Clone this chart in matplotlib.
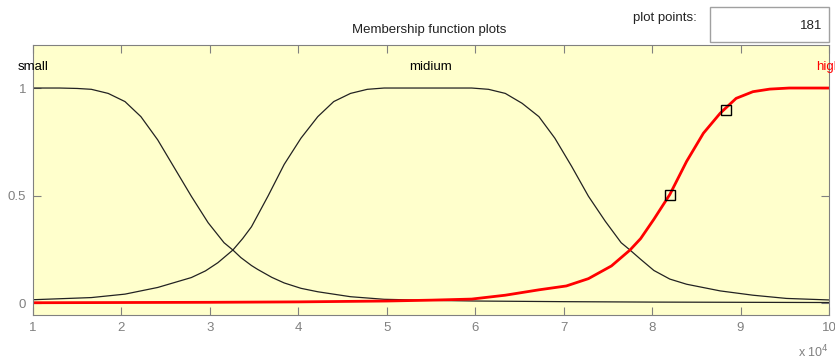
import numpy as np
import matplotlib.pyplot as plt
from matplotlib.patches import Rectangle

plt.rcParams['font.family'] = ['Liberation Sans', 'DejaVu Sans']

# membership degrees (input in units of 10^4)
x_small = [1.0, 1.3, 1.5, 1.66, 1.85, 2.04, 2.22, 2.41, 2.6, 2.79, 2.98,
           3.16, 3.26, 3.35, 3.47, 3.54, 3.7, 3.84, 4.03, 4.22, 4.59, 4.97,
           5.5, 6.0, 7.0, 8.0, 9.0, 10.0]
small = [1.0, 1.0, 0.998, 0.994, 0.975, 0.937, 0.867, 0.759, 0.628, 0.497,
         0.374, 0.281, 0.247, 0.212, 0.175, 0.157, 0.12, 0.094, 0.069, 0.053,
         0.03, 0.018, 0.013, 0.01, 0.007, 0.005, 0.004, 0.003]

x_midium = [1.0, 1.66, 2.04, 2.41, 2.79, 2.95, 3.09, 3.26, 3.37, 3.47, 3.66,
            3.84, 4.03, 4.22, 4.4, 4.59, 4.78, 4.97, 5.5, 5.96, 6.15, 6.34,
            6.53, 6.72, 6.9, 7.09, 7.28, 7.47, 7.65, 7.75, 7.87, 8.02, 8.2,
            8.39, 8.77, 9.14, 9.52, 10.0]
midium = [0.016, 0.026, 0.042, 0.073, 0.119, 0.15, 0.188, 0.247, 0.30,
          0.355, 0.50, 0.645, 0.767, 0.867, 0.937, 0.975, 0.994, 1.0, 1.0,
          1.0, 0.994, 0.975, 0.929, 0.867, 0.767, 0.636, 0.497, 0.381, 0.281,
          0.247, 0.204, 0.152, 0.112, 0.088, 0.057, 0.037, 0.022, 0.015]

x_high = [1.0, 2.0, 3.0, 4.0, 5.0, 5.5, 5.96, 6.34, 6.72, 7.03, 7.28, 7.54,
          7.75, 7.87, 8.02, 8.2, 8.39, 8.58, 8.77, 8.95, 9.14, 9.33, 9.55,
          10.0]
high = [0.002, 0.003, 0.004, 0.006, 0.01, 0.014, 0.019, 0.037, 0.062, 0.08,
        0.114, 0.173, 0.247, 0.30, 0.39, 0.505, 0.659, 0.79, 0.883, 0.952,
        0.983, 0.995, 1.0, 1.0]

mf_names = ["small", "midium", "high"]
mf_centers = [1, 5.5, 10]
mf_colors = ["black", "black", "red"]

# control-point markers on the selected MF
sel_x = [8.2, 8.84]
sel_y = [0.505, 0.90]

fig = plt.figure(figsize=(8.35, 3.61), dpi=100)
ax = fig.add_axes([33 / 835, 46 / 361, 796 / 835, 270 / 361])
ax.set_facecolor("#ffffcc")

ax.plot(x_small, small, color="#222222", lw=0.9)
ax.plot(x_midium, midium, color="#222222", lw=0.9)
ax.plot(x_high, high, color="red", lw=2)
ax.plot(sel_x, sel_y, ls="none", marker="s", ms=7, mfc="none", mec="black", mew=1)

for name, c, col in zip(mf_names, mf_centers, mf_colors):
    ax.text(c, 1.1, name, color=col, ha="center", va="center", fontsize=9.5,
            clip_on=False)

ax.set_xlim(1, 10)
ax.set_ylim(-0.055, 1.2)
ax.set_xticks(range(1, 11))
ax.set_yticks([0, 0.5, 1])
ax.set_yticklabels(["0", "0.5", "1"])
ax.tick_params(direction="in", top=True, right=True, length=6, width=0.8,
               colors="#808080", labelsize=9.5, pad=5)
for s in ax.spines.values():
    s.set_color("#808080")

fig.text(829 / 835, 1 - 352 / 361, r"x 10$^4$", color="#808080",
         ha="right", va="center", fontsize=9)
fig.text(429 / 835, 1 - 30 / 361, "Membership function plots",
         ha="center", va="center", fontsize=9.5, color="#222222")

# "plot points" field
fig.text(697 / 835, 1 - 18 / 361, "plot points:", ha="right", va="center",
         fontsize=9.5, color="#222222")
fig.patches.append(Rectangle((710 / 835, 1 - 42 / 361), 119 / 835, 35 / 361,
                             transform=fig.transFigure, fc="white",
                             ec="#a0a0a0", lw=1))
fig.text(822 / 835, 1 - 26 / 361, "181", ha="right", va="center",
         fontsize=9.5, color="#222222")

fig.savefig("out.png", dpi=100)
